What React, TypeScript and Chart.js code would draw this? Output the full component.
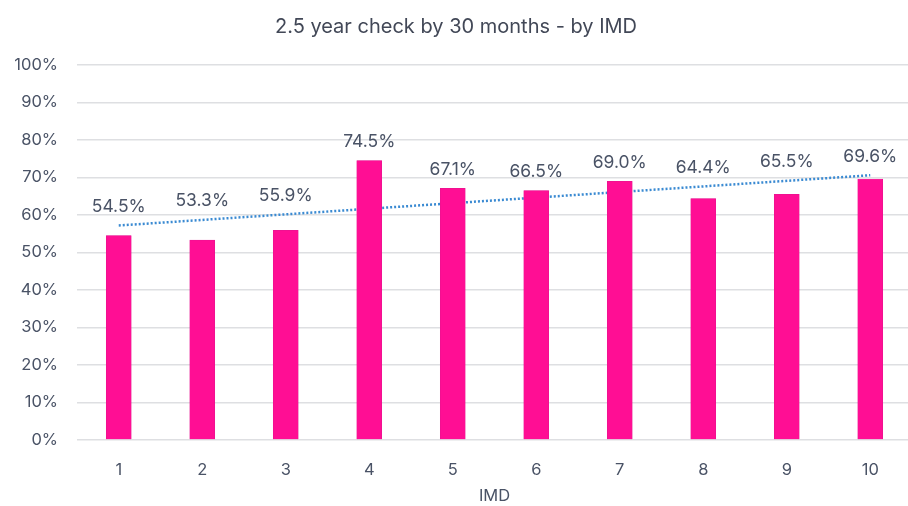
import React, { useEffect, useRef } from "react";
import { Chart, registerables } from "chart.js";

Chart.register(...registerables);

const categories = ["1", "2", "3", "4", "5", "6", "7", "8", "9", "10"];
const values = [54.5, 53.3, 55.9, 74.5, 67.1, 66.5, 69.0, 64.4, 65.5, 69.6];
// trendline endpoints (at IMD 1 and IMD 10)
const trendStart = 57.2;
const trendEnd = 70.6;
const trendData: (number | null)[] = categories.map((_, i) =>
  i === 0 ? trendStart : i === categories.length - 1 ? trendEnd : null
);
const yTicks = [0, 10, 20, 30, 40, 50, 60, 70, 80, 90, 100];

const FONT = "Inter, 'Open Sans', sans-serif";
const TEXT = "#4a5366";

const labelPlugin = {
  id: "barLabels",
  afterDatasetsDraw(chart: any) {
    const ctx = chart.ctx;
    const meta = chart.getDatasetMeta(0);
    const trendMeta = chart.getDatasetMeta(1);
    const p0 = trendMeta.data[0];
    const p1 = trendMeta.data[trendMeta.data.length - 1];
    ctx.save();
    ctx.font = `17.5px ${FONT}`;
    ctx.fillStyle = TEXT;
    ctx.textAlign = "center";
    ctx.textBaseline = "middle";
    meta.data.forEach((bar: any, i: number) => {
      const t = (bar.x - p0.x) / (p1.x - p0.x);
      const trendY = p0.y + (p1.y - p0.y) * t;
      const top = Math.min(bar.y, trendY);
      ctx.fillText(values[i].toFixed(1) + "%", bar.x, top - 19);
    });
    ctx.restore();
  },
};

export default function App() {
  const ref = useRef<HTMLCanvasElement | null>(null);
  useEffect(() => {
    document.body.style.margin = "0";
    document.body.style.overflow = "hidden";
    const chart = new Chart(ref.current as HTMLCanvasElement, {
      type: "bar",
      data: {
        labels: categories,
        datasets: [
          {
            type: "bar",
            data: values,
            backgroundColor: "#FF0E94",
            borderColor: "#E0148E",
            borderWidth: 0.5,
            barThickness: 25,
            order: 1,
          },
          {
            type: "line",
            data: trendData,
            spanGaps: true,
            borderColor: "#3a8ad2",
            borderWidth: 2.5,
            borderDash: [2, 2],
            pointRadius: 0,
            fill: false,
            order: 2,
          } as any,
        ],
      },
      options: {
        responsive: false,
        animation: false,
        layout: { padding: { left: 0, right: 4, top: 0, bottom: 0 } },
        plugins: {
          legend: { display: false },
          tooltip: { enabled: false },
          title: {
            display: true,
            text: "2.5 year check by 30 months - by IMD",
            color: "#424857",
            font: { family: FONT, size: 20, weight: "normal" as any, lineHeight: 1.2 },
            padding: { top: 15, bottom: 26 },
          },
        },
        scales: {
          x: {
            grid: { display: false },
            border: { display: false },
            ticks: {
              color: TEXT,
              font: { family: FONT, size: 16.5 },
              padding: 12,
            },
            title: {
              display: true,
              text: "IMD",
              color: TEXT,
              font: { family: FONT, size: 16.5 },
              padding: { top: 0, bottom: 0 },
            },
            afterFit(scale: any) {
              scale.height = 66;
            },
          },
          y: {
            min: 0,
            max: 100,
            afterBuildTicks(scale: any) {
              scale.ticks = yTicks.map((v) => ({ value: v }));
            },
            grid: { color: "#dedfe2", lineWidth: 1.5, drawTicks: false },
            border: { display: false },
            ticks: {
              color: TEXT,
              font: { family: FONT, size: 16.5 },
              padding: 19,
              callback: (v: any) => v + "%",
            },
            afterFit(scale: any) {
              scale.width = 77;
            },
          },
        },
      },
      plugins: [labelPlugin],
    });
    return () => chart.destroy();
  }, []);
  return (
    <div style={{ position: "absolute", left: 0, top: 0, width: 908, height: 506, overflow: "hidden", background: "#fff" }}>
      <canvas ref={ref} width={916} height={506} style={{ display: "block" }} />
    </div>
  );
}
